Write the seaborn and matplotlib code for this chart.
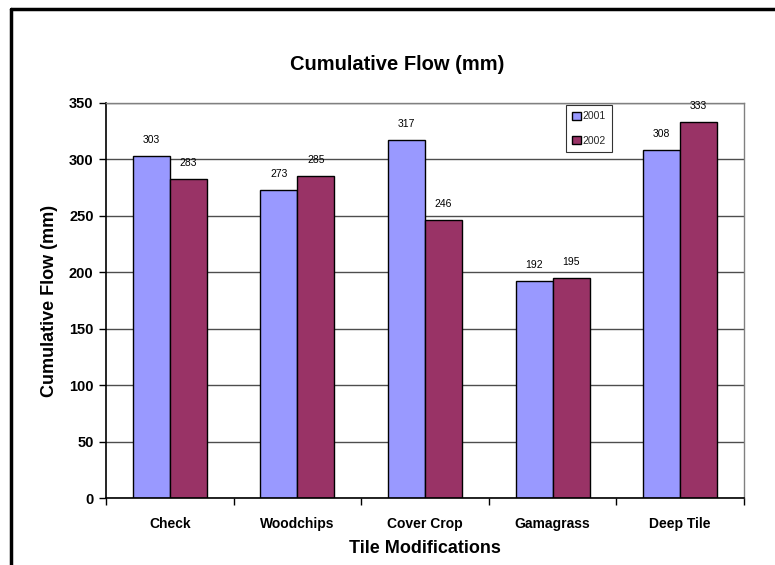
import matplotlib
matplotlib.use("Agg")
import matplotlib.pyplot as plt
from matplotlib.lines import Line2D
from matplotlib.ticker import FixedLocator
import seaborn as sns
import pandas as pd

# Cumulative tile flow by treatment and year
treatments = ["Check", "Woodchips", "Cover Crop", "Gamagrass", "Deep Tile"]
flow_2001 = [303, 273, 317, 192, 308]
flow_2002 = [283, 285, 246, 195, 333]
years = ["2001", "2002"]
y_ticks = [0, 50, 100, 150, 200, 250, 300, 350]

df = pd.DataFrame({
    "Treatment": treatments * 2,
    "Year": [years[0]] * len(treatments) + [years[1]] * len(treatments),
    "Flow": flow_2001 + flow_2002,
})

sns.set_theme(style="white")
plt.rcParams["font.family"] = ["Liberation Sans", "DejaVu Sans"]

fig = plt.figure(figsize=(7.75, 5.65), dpi=100)
ax = fig.add_axes([106 / 775, 1 - 498 / 565, (744 - 106) / 775, (498 - 103) / 565])

palette = {"2001": "#9999FF", "2002": "#993366"}
sns.barplot(data=df, x="Treatment", y="Flow", hue="Year", order=treatments,
            hue_order=years, palette=palette, width=0.58, saturation=1,
            edgecolor="black", linewidth=1.0, ax=ax, legend=True)

for cont in ax.containers:
    ax.bar_label(cont, fmt="%d", padding=8, fontsize=7.5, color="black")

ax.set_ylim(0, 350)
ax.set_xlim(-0.5, 4.5)
ax.set_yticks(y_ticks)
ax.yaxis.grid(True, color="#4d4d4d", linewidth=1.0)
ax.set_axisbelow(True)

for lbl in ax.get_yticklabels():
    lbl.set_fontweight("bold")
    lbl.set_fontsize(10.5)
for lbl in ax.get_xticklabels():
    lbl.set_fontweight("bold")
    lbl.set_fontsize(10)

ax.tick_params(axis="y", which="major", direction="out", length=5, width=1,
               color="black", left=True, pad=4, labelcolor="black")
ax.tick_params(axis="x", which="major", length=0, pad=14, labelcolor="black")
ax.xaxis.set_minor_locator(FixedLocator([-0.5, 0.5, 1.5, 2.5, 3.5, 4.5]))
ax.tick_params(axis="x", which="minor", direction="out", length=5, width=1,
               color="black", bottom=True)

for side in ("left", "bottom"):
    ax.spines[side].set_color("black")
    ax.spines[side].set_linewidth(1.2)
for side in ("top", "right"):
    ax.spines[side].set_color("#808080")
    ax.spines[side].set_linewidth(1.0)

ax.set_xlabel("Tile Modifications", fontsize=13, fontweight="bold", labelpad=6,
              color="black")
ax.set_ylabel("Cumulative Flow (mm)", fontsize=13, fontweight="bold", labelpad=8,
              color="black")

fig.text(397 / 775, 1 - 65 / 565, "Cumulative Flow (mm)", ha="center", va="center",
         fontsize=14.5, fontweight="bold", color="black")

leg = ax.legend(title=None, loc="upper left",
                bbox_to_anchor=((566 - 106) / (744 - 106), (498 - 105) / (498 - 103)),
                fontsize=7.5, frameon=True, fancybox=False, handlelength=0.8,
                handleheight=0.8, handletextpad=0.2, labelspacing=1.4,
                borderpad=0.6, borderaxespad=0)
leg.get_frame().set_edgecolor("black")
leg.get_frame().set_linewidth(0.8)

# Outer chart frame (left and top edges)
fig.add_artist(Line2D([11 / 775, 11 / 775], [0, 1 - 9 / 565], color="black",
                      linewidth=2.5, transform=fig.transFigure))
fig.add_artist(Line2D([11 / 775, 1], [1 - 9 / 565, 1 - 9 / 565], color="black",
                      linewidth=2.5, transform=fig.transFigure))

fig.savefig("out.png", dpi=100)
